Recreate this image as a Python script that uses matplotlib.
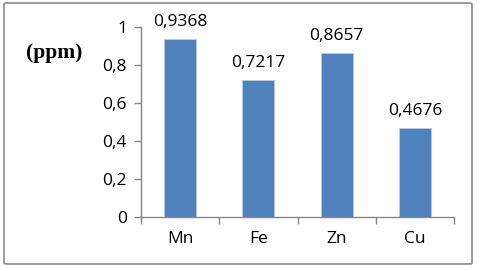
import matplotlib
matplotlib.use("Agg")
import matplotlib.pyplot as plt
from matplotlib.patches import FancyBboxPatch
from matplotlib.ticker import FixedLocator

categories = ["Mn", "Fe", "Zn", "Cu"]
values = [0.9368, 0.7217, 0.8657, 0.4676]
value_labels = ["0,9368", "0,7217", "0,8657", "0,4676"]
yticks = [0, 0.2, 0.4, 0.6, 0.8, 1.0]
ytick_labels = ["0", "0,2", "0,4", "0,6", "0,8", "1"]

font = ["Open Sans", "DejaVu Sans"]
fs = 12.5
fig = plt.figure(figsize=(4.79, 2.68), dpi=100)
fig.patch.set_facecolor("white")
border = FancyBboxPatch((4/479, 4/268), 468/479, 261/268,
                        boxstyle="round,pad=0,rounding_size=0.005",
                        transform=fig.transFigure, fill=False,
                        edgecolor="#8c8c8c", linewidth=1.2)
fig.patches.append(border)

ax = fig.add_axes([141/479, 1 - 217/268, (454 - 141)/479, 190/268])
x = list(range(len(categories)))
ax.bar(x, values, width=0.41, color="#4F81BD", edgecolor="#B9CDE5", linewidth=0.6)
ax.set_xlim(-0.5, 3.5)
ax.set_ylim(0, 1)

for xi, v, lab in zip(x, values, value_labels):
    ax.text(xi, v + 0.068, lab, ha="center", va="baseline", fontsize=fs, family=font, color="black")

ax.yaxis.set_major_locator(FixedLocator(yticks))
ax.set_yticklabels(ytick_labels, fontsize=fs, family=font)
ax.set_xticks(x)
ax.set_xticklabels(categories, fontsize=fs, family=font)
ax.tick_params(axis="x", length=0, pad=10)
ax.set_xticks([-0.5, 0.5, 1.5, 2.5, 3.5], minor=True)
ax.tick_params(axis="x", which="minor", length=5, color="#868686", width=1)
ax.tick_params(axis="y", length=5, color="#868686", width=1, pad=5)

for s in ["top", "right"]:
    ax.spines[s].set_visible(False)
for s in ["left", "bottom"]:
    ax.spines[s].set_color("#868686")
    ax.spines[s].set_linewidth(1)

fig.text(26/479, 1 - 53/268, "(ppm)", fontsize=15.5, fontweight="bold",
         family=["Liberation Serif", "DejaVu Serif"], va="center", ha="left")

fig.savefig("out.png", dpi=100)
